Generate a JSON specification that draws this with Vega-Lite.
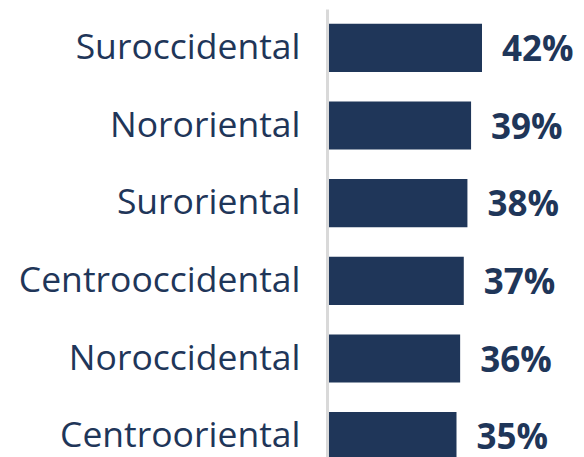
{
  "$schema": "https://vega.github.io/schema/vega-lite/v6.json",
  "autosize": {"type": "none"},
  "padding": {"left": 329, "top": 9, "right": 0, "bottom": 0},
  "width": 255,
  "height": 466,
  "background": "white",
  "data": {"values": [
    {"region": "Suroccidental", "value": 42, "label": "42%", "order": 1},
    {"region": "Nororiental", "value": 39, "label": "39%", "order": 2},
    {"region": "Suroriental", "value": 38, "label": "38%", "order": 3},
    {"region": "Centrooccidental", "value": 37, "label": "37%", "order": 4},
    {"region": "Noroccidental", "value": 36, "label": "36%", "order": 5},
    {"region": "Centrooriental", "value": 35, "label": "35%", "order": 6}
  ]},
  "encoding": {
    "y": {
      "field": "region", "type": "nominal",
      "sort": {"field": "order", "order": "ascending"},
      "scale": {"paddingInner": 0.38, "paddingOuter": 0.19},
      "axis": {
        "title": null, "ticks": false, "domain": true,
        "domainColor": "#d9d9d9", "domainWidth": 3, "offset": 2,
        "labelPadding": 27, "labelFont": "Open Sans", "labelFontSize": 35.5,
        "labelLimit": 0,
        "labelColor": "#1f3659", "labelFontWeight": "normal", "grid": false
      }
    },
    "x": {
      "field": "value", "type": "quantitative",
      "scale": {"domain": [0, 70]},
      "axis": null
    }
  },
  "layer": [
    {"mark": {"type": "bar", "color": "#1f3659"}},
    {
      "mark": {"type": "text", "align": "left", "baseline": "middle", "dx": 20, "dy": 2,
               "font": "Open Sans", "fontSize": 35, "fontWeight": "bold", "color": "#1f3659"},
      "encoding": {"text": {"field": "label"}}
    }
  ],
  "config": {"view": {"stroke": null}}
}
